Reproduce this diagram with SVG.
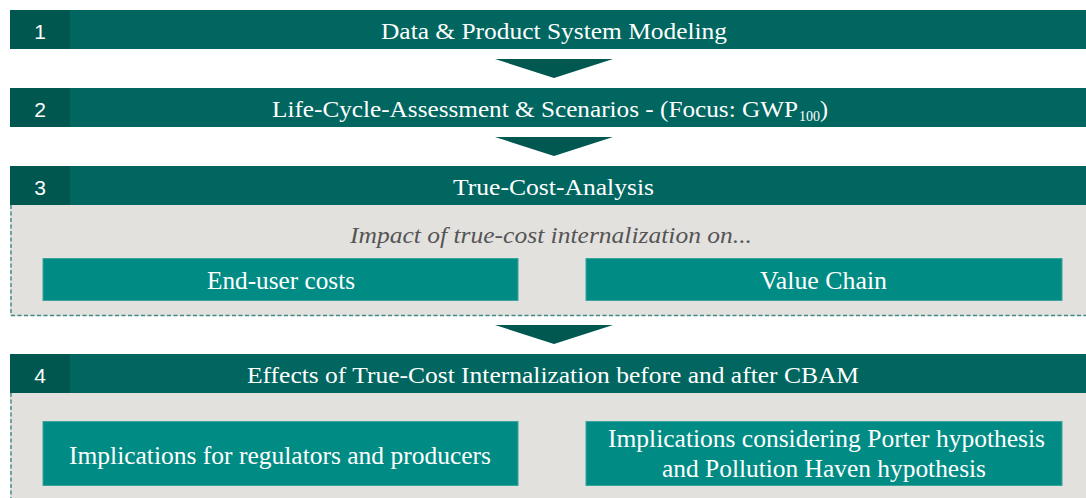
<svg xmlns="http://www.w3.org/2000/svg" width="1086" height="498" viewBox="0 0 1086 498">
<style>
.bar{fill:#00665f}
.num{fill:#00574f}
.numt{font-family:"Liberation Sans",Arial,sans-serif;font-size:21px;fill:#fff;text-anchor:middle}
.tt{font-family:"Liberation Serif","Times New Roman",serif;font-size:24px;fill:#fff;text-anchor:middle}
.st{font-family:"Liberation Serif","Times New Roman",serif;font-size:25px;fill:#fff;text-anchor:middle}
.panel{fill:#e3e1de}
.dash{fill:none;stroke:#3d8985;stroke-width:1.4;stroke-dasharray:4 2.5}
.sub{fill:#008c84;stroke:#3aa39c;stroke-width:1}
.arrow{fill:#005850}
.it{font-family:"Liberation Serif","Times New Roman",serif;font-size:23px;font-style:italic;fill:#555;text-anchor:middle}
</style>
<rect width="1086" height="498" fill="#fff"/>
<g id="panel3">
<rect class="panel" x="10" y="205" width="1080" height="111"/>
<path class="dash" d="M11 205 V315.5 H1090"/>
</g>
<g id="panel4">
<rect class="panel" x="10" y="393" width="1080" height="110"/>
<path class="dash" d="M11 393 V500"/>
</g>
<g id="step1">
<rect class="bar" x="10" y="10" width="1080" height="39"/>
<rect class="num" x="10" y="10" width="60" height="39"/>
<text class="numt" x="40" y="39">1</text>
<text class="tt" x="554" y="39" textLength="346" lengthAdjust="spacingAndGlyphs">Data &amp; Product System Modeling</text>
</g>
<g id="step2">
<rect class="bar" x="10" y="88" width="1080" height="39"/>
<rect class="num" x="10" y="88" width="60" height="39"/>
<text class="numt" x="40" y="117">2</text>
<text class="tt" x="272" y="117" style="text-anchor:start" textLength="526" lengthAdjust="spacingAndGlyphs">Life-Cycle-Assessment &amp; Scenarios - (Focus: GWP</text>
<text class="tt" x="799" y="121" style="text-anchor:start;font-size:15px" textLength="21" lengthAdjust="spacingAndGlyphs">100</text>
<text class="tt" x="820" y="117" style="text-anchor:start">)</text>
</g>
<g id="step3">
<rect class="bar" x="10" y="166" width="1080" height="39"/>
<rect class="num" x="10" y="166" width="60" height="39"/>
<text class="numt" x="40" y="195">3</text>
<text class="tt" x="553.5" y="195" textLength="201" lengthAdjust="spacingAndGlyphs">True-Cost-Analysis</text>
<text class="it" x="551" y="243" textLength="402" lengthAdjust="spacingAndGlyphs">Impact of true-cost internalization on...</text>
</g>
<g id="enduser">
<rect class="sub" x="43" y="258.5" width="475" height="42"/>
<text class="st" x="281" y="289" textLength="148" lengthAdjust="spacingAndGlyphs">End-user costs</text>
</g>
<g id="valuechain">
<rect class="sub" x="586" y="258.5" width="476" height="42"/>
<text class="st" x="823.5" y="289" textLength="127" lengthAdjust="spacingAndGlyphs">Value Chain</text>
</g>
<g id="step4">
<rect class="bar" x="10" y="354" width="1080" height="39"/>
<rect class="num" x="10" y="354" width="60" height="39"/>
<text class="numt" x="40" y="383">4</text>
<text class="tt" x="553" y="383" textLength="612" lengthAdjust="spacingAndGlyphs">Effects of True-Cost Internalization before and after CBAM</text>
</g>
<g id="regulators">
<rect class="sub" x="43" y="421.5" width="475" height="64"/>
<text class="st" x="280" y="464" textLength="422" lengthAdjust="spacingAndGlyphs">Implications for regulators and producers</text>
</g>
<g id="porter">
<rect class="sub" x="586" y="421.5" width="476" height="64"/>
<text class="st" x="826.5" y="447" textLength="437" lengthAdjust="spacingAndGlyphs">Implications considering Porter hypothesis</text>
<text class="st" x="824" y="477" textLength="324" lengthAdjust="spacingAndGlyphs">and Pollution Haven hypothesis</text>
</g>
<g id="connectors">
<polygon class="arrow" points="495,59 613,59 554,78"/>
<polygon class="arrow" points="495,137 613,137 554,156"/>
<polygon class="arrow" points="495,325 613,325 554,344"/>
</g>
</svg>
